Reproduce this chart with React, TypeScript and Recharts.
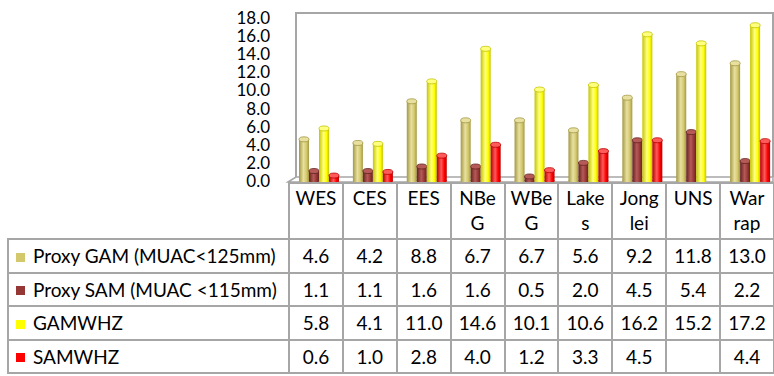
import * as React from 'react'
import { BarChart, Bar, XAxis, YAxis } from 'recharts'

const categories = ['WES', 'CES', 'EES', 'NBeG', 'WBeG', 'Lakes', 'Jonglei', 'UNS', 'Warrap']
const headerLines = [['WES'], ['CES'], ['EES'], ['NBe', 'G'], ['WBe', 'G'], ['Lake', 's'], ['Jong', 'lei'], ['UNS'], ['War', 'rap']]
const proxyGam = [4.6, 4.2, 8.8, 6.7, 6.7, 5.6, 9.2, 11.8, 13.0]
const proxySam = [1.1, 1.1, 1.6, 1.6, 0.5, 2.0, 4.5, 5.4, 2.2]
const gamWhz = [5.8, 4.1, 11.0, 14.6, 10.1, 10.6, 16.2, 15.2, 17.2]
const samWhz: (number | null)[] = [0.6, 1.0, 2.8, 4.0, 1.2, 3.3, 4.5, null, 4.4]
const yTicks = [0, 2, 4, 6, 8, 10, 12, 14, 16, 18]

const series = [
  { key: 'gam', name: 'Proxy GAM (MUAC<125mm)', values: proxyGam, color: '#D4C86C', light: '#E8E0A0', edge: '#A39843' },
  { key: 'sam', name: 'Proxy SAM (MUAC <115mm)', values: proxySam, color: '#953735', light: '#B65A58', edge: '#652220' },
  { key: 'gamwhz', name: 'GAMWHZ', values: gamWhz, color: '#FFFF00', light: '#FFFF80', edge: '#C4C400' },
  { key: 'samwhz', name: 'SAMWHZ', values: samWhz, color: '#FF0000', light: '#FF5A5A', edge: '#B80000' }
]

const data = categories.map((name, i) => {
  const row: Record<string, string | number | null> = { name }
  series.forEach((s) => {
    row[s.key] = s.values[i]
  })
  return row
})

const FONT = 'Lato, "Noto Sans", sans-serif'
const GRID = '#A6A6A6'

function cylinder(key: string, s: (typeof series)[number]) {
  return (props: any) => {
    const { x, y, width, height } = props
    if (!height || height <= 0) return <g />
    const bx = x + 4
    const cx = bx + width / 2
    const rx = width / 2
    const ry = 2.5
    return (
      <g>
        <rect x={bx} y={y} width={width} height={height} fill={`url(#grad-${key})`} />
        <ellipse cx={cx} cy={y + height} rx={rx} ry={ry} fill={`url(#grad-${key})`} />
        <ellipse cx={cx} cy={y} rx={rx} ry={ry} fill={s.light} stroke={s.edge} strokeWidth={0.8} />
      </g>
    )
  }
}

function DataTable() {
  const cell: React.CSSProperties = {
    border: `2px solid ${GRID}`,
    textAlign: 'center',
    padding: 0,
    height: 31.5
  }
  return (
    <table
      style={{
        position: 'absolute',
        left: 7,
        top: 182,
        borderCollapse: 'collapse',
        tableLayout: 'fixed',
        width: 766,
        fontFamily: FONT,
        fontSize: 19,
        color: '#000'
      }}
    >
      <colgroup>
        <col style={{ width: 281 }} />
        {categories.map((c) => (
          <col key={c} style={{ width: 485 / 9 }} />
        ))}
      </colgroup>
      <tbody>
        <tr>
          <td style={{ border: 'none', borderRight: `2px solid ${GRID}` }} />
          {headerLines.map((lines, i) => (
            <td key={i} style={{ ...cell, height: 53, verticalAlign: 'top', lineHeight: '25px', paddingTop: 1 }}>
              {lines.map((l, j) => (
                <div key={j}>{l}</div>
              ))}
            </td>
          ))}
        </tr>
        {series.map((s) => (
          <tr key={s.key}>
            <td style={{ ...cell, textAlign: 'left', whiteSpace: 'nowrap', paddingLeft: 7 }}>
              <span
                style={{
                  display: 'inline-block',
                  width: 9,
                  height: 9,
                  background: s.color,
                  marginRight: 8,
                  verticalAlign: 'middle',
                  position: 'relative',
                  top: -1
                }}
              />
              {s.name}
            </td>
            {s.values.map((v, i) => (
              <td key={i} style={cell}>
                {v == null ? '' : v.toFixed(1)}
              </td>
            ))}
          </tr>
        ))}
      </tbody>
    </table>
  )
}

export default function App() {
  return (
    <div style={{ position: 'absolute', left: 0, top: 0, width: 774, height: 376, background: '#fff', overflow: 'hidden' }}>
      <svg width={774} height={190} style={{ position: 'absolute', left: 0, top: 0 }}>
        <polyline points="296,177 296,13 773,13 773,177" fill="none" stroke={GRID} strokeWidth={2} />
        <polygon points="288,182 296,177 773,177 773,182" fill="#fff" stroke={GRID} strokeWidth={1.5} />
      </svg>
      <div style={{ position: 'absolute', left: 0, top: 0 }}>
        <BarChart
          width={774}
          height={190}
          data={data}
          margin={{ top: 18, right: 1, bottom: 9, left: 0 }}
          barGap={0}
          barSize={10}
        >
          <defs>
            {series.map((s) => (
              <linearGradient key={s.key} id={`grad-${s.key}`} x1="0" y1="0" x2="1" y2="0">
                <stop offset="0%" stopColor={s.edge} />
                <stop offset="45%" stopColor={s.light} />
                <stop offset="75%" stopColor={s.color} />
                <stop offset="100%" stopColor={s.edge} />
              </linearGradient>
            ))}
          </defs>
          <XAxis dataKey="name" hide />
          <YAxis
            width={288}
            domain={[0, 18]}
            ticks={yTicks}
            interval={0}
            axisLine={false}
            tickLine={false}
            tickSize={0}
            tickMargin={18}
            tickFormatter={(v: number) => v.toFixed(1)}
            tick={{ fill: '#000', fontSize: 17, fontFamily: FONT }}
          />
          {series.map((s) => (
            <Bar key={s.key} dataKey={s.key} name={s.name} fill={s.color} shape={cylinder(s.key, s)} isAnimationActive={false} />
          ))}
        </BarChart>
      </div>
      <DataTable />
    </div>
  )
}
